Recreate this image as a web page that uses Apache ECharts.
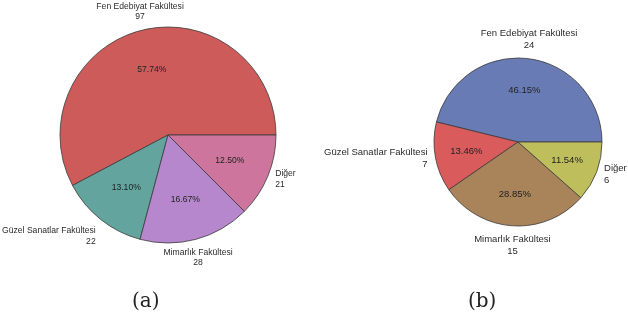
<!DOCTYPE html>
<html>
<head>
<meta charset="utf-8">
<script src="https://cdn.jsdelivr.net/npm/echarts@6/dist/echarts.min.js"></script>
<style>
  html, body { margin: 0; padding: 0; background: #fff; }
  #main { width: 628px; height: 319px; }
</style>
</head>
<body>
<div id="main"></div>
<script>
// fakülte adları ve sayılar
var names = ['Fen Edebiyat Fakültesi', 'Güzel Sanatlar Fakültesi', 'Mimarlık Fakültesi', 'Diğer'];
var countsA = [97, 22, 28, 21];
var countsB = [24, 7, 15, 6];
var captions = ['(a)', '(b)'];

var colorsA = ['#CD5B5A', '#63A49E', '#B687CC', '#CD759C'];
var colorsB = ['#697BB4', '#D95B5B', '#A98359', '#BEBE5C'];
// etiket hizalama (stil)
var alignAll = ['center', 'right', 'center', 'left'];
var vAlignA = ['bottom', 'top', 'top', 'middle'];
var vAlignB = ['bottom', 'middle', 'top', 'middle'];

function toData(counts, colors) {
    return counts.map(function (v, i) {
        return { name: names[i], value: v, itemStyle: { color: colors[i] } };
    });
}

function pieSeries(counts, colors, center, r, r0, fontSize, vAlign) {
    var total = counts.reduce(function (a, b) { return a + b; }, 0);
    return [
        {
            type: 'pie',
            center: center,
            radius: r,
            startAngle: 0,
            clockwise: false,
            avoidLabelOverlap: false,
            silent: true,
            data: toData(counts, colors),
            itemStyle: { borderColor: '#3a3a3a', borderWidth: 0.8 },
            label: {
                position: 'outside',
                formatter: '{b}\n{c}',
                color: '#2b2b2b',
                fontFamily: 'Liberation Sans, Arial, sans-serif',
                fontSize: fontSize,
                lineHeight: fontSize + 2,
                distanceToLabelLine: 0
            },
            labelLine: { show: false, length: 8, length2: 0 },
            labelLayout: function (p) {
                return { align: alignAll[p.dataIndex], verticalAlign: vAlign[p.dataIndex] };
            }
        },
        {
            // yüzde etiketleri için şeffaf kopya
            type: 'pie',
            center: center,
            radius: [r0, r],
            startAngle: 0,
            clockwise: false,
            silent: true,
            z: 3,
            data: counts.map(function (v, i) { return { name: names[i], value: v }; }),
            itemStyle: { color: 'transparent', borderWidth: 0 },
            label: {
                position: 'inside',
                color: '#222',
                fontFamily: 'Liberation Sans, Arial, sans-serif',
                fontSize: fontSize,
                formatter: function (p) {
                    return (p.value / total * 100).toFixed(2) + '%';
                }
            },
            labelLine: { show: false }
        }
    ];
}

var chart = echarts.init(document.getElementById('main'));
chart.setOption({
    animation: false,
    title: [
        { text: captions[0], left: 127, top: 287,
          textStyle: { fontFamily: 'DejaVu Serif', fontWeight: 'normal', fontSize: 20, color: '#222' } },
        { text: captions[1], left: 463, top: 287,
          textStyle: { fontFamily: 'DejaVu Serif', fontWeight: 'normal', fontSize: 20, color: '#222' } }
    ],
    series: pieSeries(countsA, colorsA, [168, 135], 108, 20, 8.6, vAlignA)
        .concat(pieSeries(countsB, colorsB, [518, 142], 84, 15, 9.5, vAlignB))
});
</script>
</body>
</html>
